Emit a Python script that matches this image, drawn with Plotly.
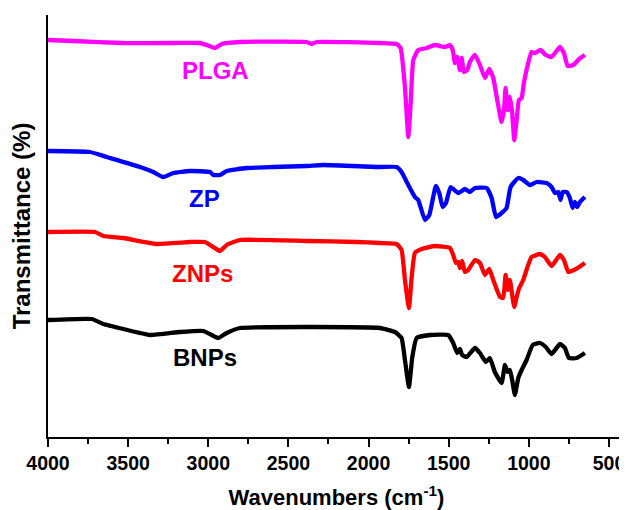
import plotly.graph_objects as go

# FTIR spectra (wavenumber in cm^-1, transmittance in arbitrary offset units)
plga_wn = [4000, 3842, 3530, 3218, 3052, 3010, 2958, 2916, 2802, 2386, 2355, 2324, 1929, 1825, 1800,
           1773, 1752, 1737, 1721, 1690, 1638, 1586, 1523, 1492, 1475, 1461, 1447, 1430, 1419, 1405,
           1384, 1368, 1336, 1305, 1274, 1247, 1222, 1197, 1170, 1155, 1145, 1132, 1118, 1104, 1091,
           1076, 1062, 1045, 1031, 1004, 983, 962, 927, 894, 858, 806, 781, 758, 723, 686, 650]
plga_t = [397, 396, 394, 394, 394, 392, 389, 393, 395, 395, 393, 395, 394, 393, 389,
          350, 300, 334, 377, 387, 389, 392, 390, 392, 387, 374, 380, 367, 379, 365,
          367, 375, 382, 372, 359, 368, 359, 337, 315, 327, 349, 327, 340, 324, 297,
          317, 337, 339, 354, 374, 385, 384, 387, 382, 380, 390, 384, 371, 372, 378, 382]

zp_wn = [4000, 3738, 3634, 3426, 3343, 3281, 3218, 3114, 2989, 2969, 2927, 2885, 2760, 2595, 2386,
         2283, 1929, 1825, 1794, 1762, 1711, 1690, 1648, 1621, 1580, 1559, 1538, 1517, 1488, 1440,
         1399, 1368, 1336, 1263, 1232, 1205, 1170, 1139, 1114, 1066, 1035, 993, 951, 889, 858,
         837, 817, 802, 789, 764, 744, 727, 713, 698, 681, 650]
zp_t = [286, 285, 280, 270, 265, 260, 264, 266, 265, 262, 262, 266, 269, 270, 271,
        272, 270, 270, 265, 255, 240, 237, 217, 222, 251, 244, 230, 234, 250, 244,
        248, 245, 249, 249, 239, 220, 224, 229, 250, 259, 257, 252, 255, 254, 250,
        244, 245, 237, 245, 245, 239, 229, 235, 230, 235, 240]

znps_wn = [4000, 3707, 3655, 3530, 3322, 3114, 3021, 2969, 2927, 2885, 2802, 2386, 2074, 1929, 1825,
           1794, 1773, 1748, 1731, 1711, 1669, 1586, 1492, 1472, 1455, 1440, 1430, 1416, 1399, 1378,
           1336, 1305, 1274, 1247, 1222, 1180, 1160, 1145, 1132, 1118, 1104, 1091, 1076, 1060, 1035,
           1004, 983, 931, 900, 858, 806, 781, 754, 719, 686, 650]
znps_t = [205, 205, 201, 199, 193, 195, 195, 190, 186, 192, 197, 196, 195, 194, 193,
          187, 157, 129, 160, 184, 188, 191, 189, 182, 174, 175, 169, 176, 165, 167,
          177, 174, 162, 168, 157, 140, 139, 162, 147, 157, 142, 130, 140, 149, 157,
          172, 180, 183, 180, 171, 182, 177, 165, 167, 170, 174]

bnps_wn = [4000, 3727, 3655, 3530, 3364, 3177, 3031, 2979, 2938, 2885, 2802, 2345, 1929, 1835, 1794,
           1773, 1748, 1727, 1700, 1617, 1503, 1472, 1447, 1430, 1416, 1388, 1336, 1305, 1268, 1243,
           1212, 1170, 1149, 1132, 1118, 1104, 1087, 1066, 1045, 1014, 976, 931, 894, 858, 806,
           775, 750, 702, 650]
bnps_t = [117, 118, 113, 108, 102, 105, 106, 102, 99, 104, 109, 110, 109, 105, 99,
          77, 50, 80, 99, 102, 102, 94, 84, 88, 82, 80, 89, 84, 75, 79,
          65, 54, 72, 65, 67, 57, 42, 59, 67, 77, 92, 94, 90, 83, 93,
          89, 79, 79, 84]

series_names = ["PLGA", "ZP", "ZNPs", "BNPs"]
series_colors = ["#FF00FF", "#0000FF", "#FF0000", "#000000"]
label_wn = [2958, 3021, 3033, 3021]
label_t = [367, 239, 164, 80]

x_ticks = [4000, 3500, 3000, 2500, 2000, 1500, 1000, 500]

fig = go.Figure()
for name, wn, t, c in zip(series_names, [plga_wn, zp_wn, znps_wn, bnps_wn],
                          [plga_t, zp_t, znps_t, bnps_t], series_colors):
    fig.add_trace(go.Scatter(x=wn, y=t, mode="lines", name=name,
                             line=dict(color=c, width=4.3, shape="spline", smoothing=0.4),
                             showlegend=False))

for name, x, y, c in zip(series_names, label_wn, label_t, series_colors):
    fig.add_annotation(x=x, y=y, text=name, showarrow=False,
                       font=dict(family="Liberation Sans, Arial", size=24, color=c, weight="bold"))

fig.update_layout(
    width=619, height=502,
    margin=dict(l=40, r=2, t=7, b=73),
    paper_bgcolor="white", plot_bgcolor="white",
    font=dict(family="Liberation Sans, Arial", color="black"),
    xaxis=dict(range=[4000, 400], tickvals=x_ticks, ticktext=[str(v) for v in x_ticks],
               automargin=False,
               showgrid=False, zeroline=False, showline=True, linecolor="black", linewidth=1.5,
               ticks="outside", ticklen=8, tickwidth=1.5, tickcolor="black",
               minor=dict(ticks="outside", ticklen=5, tickwidth=1.5, tickcolor="black", dtick=250),
               tickfont=dict(size=19.5, weight="bold"),
               title=dict(text="Wavenumbers (cm<sup>-1</sup>)", font=dict(size=22, weight="bold"), standoff=17)),
    yaxis=dict(range=[0, 422], showticklabels=False, ticks="", showgrid=False, zeroline=False,
               automargin=False,
               showline=True, linecolor="black", linewidth=1.5,
               title=dict(text="Transmittance (%)", font=dict(size=24, weight="bold"), standoff=14)),
)

fig.write_html("out.html")
